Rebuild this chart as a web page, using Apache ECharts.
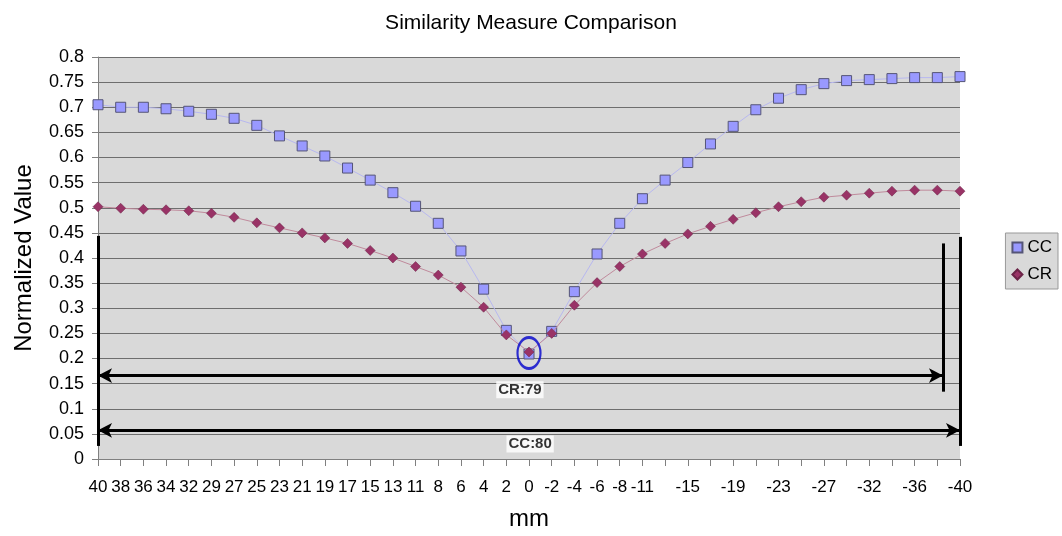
<!DOCTYPE html>
<html>
<head>
<meta charset="utf-8">
<script src="https://cdn.jsdelivr.net/npm/echarts@6/dist/echarts.min.js"></script>
<style>
  html, body { margin: 0; padding: 0; background: #fff; }
  #chart { width: 1062px; height: 536px; }
</style>
</head>
<body>
<div id="chart"></div>
<script>
// x positions in mm (some labels hidden in the original because of overlap)
const mmLabels = ['40', '38', '36', '34', '32', '29', '27', '25', '23', '21', '19', '17', '15', '13', '11', '8', '6', '4', '2', '0',
  '-2', '-4', '-6', '-8', '-11', '-13', '-15', '-17', '-19', '-21', '-23', '-25', '-27', '-29', '-32', '-34', '-36', '-38', '-40']

const ccValues = [0.705, 0.700, 0.700, 0.697, 0.692, 0.686, 0.678, 0.664, 0.643, 0.623, 0.603, 0.579, 0.555, 0.530, 0.503, 0.469, 0.414, 0.338, 0.256, 0.209,
  0.254, 0.333, 0.408, 0.469, 0.518, 0.555, 0.590, 0.627, 0.662, 0.695, 0.718, 0.735, 0.747, 0.753, 0.755, 0.757, 0.759, 0.759, 0.761]

const crValues = [0.502, 0.499, 0.497, 0.496, 0.494, 0.489, 0.481, 0.470, 0.460, 0.450, 0.440, 0.429, 0.415, 0.400, 0.383, 0.366, 0.342, 0.302, 0.247, 0.213,
  0.250, 0.306, 0.351, 0.383, 0.408, 0.429, 0.448, 0.463, 0.477, 0.490, 0.502, 0.512, 0.521, 0.525, 0.529, 0.533, 0.535, 0.535, 0.533]

// annotation bits (index along the x axis, value)
const crRange = [[0, 0.166], [37.25, 0.166]]
const ccRange = [[0, 0.057], [38, 0.057]]
const fences = [
  [[0, 0.444], [0, 0.026]],
  [[37.25, 0.429], [37.25, 0.134]],
  [[38, 0.442], [38, 0.026]]
]
const rangeLabels = [
  { text: 'CR:79', at: [18.6, 0.138] },
  { text: 'CC:80', at: [19.05, 0.030] }
]
const minimumAt = [19, 0.211]

const font = 'Liberation Sans, Arial, sans-serif'
const chart = echarts.init(document.getElementById('chart'))

const arrowLines = [crRange, ccRange].map(r => [
  { coord: r[0], symbol: 'arrow' },
  { coord: r[1], symbol: 'arrow' }
])
const fenceLines = fences.map(f => [
  { coord: f[0], symbol: 'none' },
  { coord: f[1], symbol: 'none' }
])

const option = {
  animation: false,
  backgroundColor: '#fff',
  title: {
    text: 'Similarity Measure Comparison',
    left: 'center',
    top: 8,
    textStyle: { fontFamily: font, fontSize: 21, fontWeight: 'normal', color: '#000' }
  },
  legend: {
    orient: 'vertical',
    right: 4,
    top: 233,
    itemWidth: 10,
    itemHeight: 10,
    itemGap: 10,
    padding: [6, 6, 6, 6],
    backgroundColor: '#d9d9d9',
    borderColor: '#999',
    borderWidth: 1,
    borderRadius: 0,
    textStyle: { fontFamily: font, fontSize: 17, color: '#000' },
    data: [
      { name: 'CC', icon: 'rect' },
      { name: 'CR', icon: 'diamond' }
    ]
  },
  grid: {
    left: 98,
    right: 102,
    top: 57,
    bottom: 74,
    show: true,
    backgroundColor: '#d9d9d9',
    borderWidth: 0
  },
  xAxis: [
    {
      type: 'category',
      data: mmLabels,
      boundaryGap: false,
      name: 'mm',
      nameLocation: 'middle',
      nameGap: 48,
      nameTextStyle: { fontFamily: font, fontSize: 24, color: '#000' },
      axisLine: { lineStyle: { color: '#808080', width: 1 } },
      axisTick: { show: true, length: 7, interval: 0, lineStyle: { color: '#808080' } },
      axisLabel: {
        interval: (i) => i <= 24 || i % 2 === 0,
        margin: 20,
        fontFamily: font,
        fontSize: 17,
        color: '#000'
      },
      splitLine: { show: false }
    },
    {
      type: 'value',
      min: 0,
      max: 38,
      show: false
    }
  ],
  yAxis: {
    type: 'value',
    min: 0,
    max: 0.8,
    interval: 0.05,
    name: 'Normalized Value',
    nameLocation: 'middle',
    nameGap: 62,
    nameTextStyle: { fontFamily: font, fontSize: 24, color: '#000' },
    axisLine: { show: true, lineStyle: { color: '#808080', width: 1 } },
    axisTick: { show: true, length: 6, lineStyle: { color: '#808080' } },
    axisLabel: {
      margin: 14,
      fontFamily: font,
      fontSize: 18,
      color: '#000',
      formatter: (v) => String(+v.toFixed(2))
    },
    splitLine: { show: true, lineStyle: { color: '#6e6e6e', width: 1 } }
  },
  series: [
    {
      name: 'CC',
      type: 'line',
      data: ccValues,
      symbol: 'rect',
      symbolSize: 10,
      lineStyle: { color: '#b8b8f0', width: 1 },
      itemStyle: { color: '#9999ff', borderColor: '#555577', borderWidth: 1 },
      z: 3
    },
    {
      name: 'CR',
      type: 'line',
      data: crValues,
      symbol: 'diamond',
      symbolSize: 10,
      lineStyle: { color: '#c08a9c', width: 1 },
      itemStyle: { color: '#993366', borderColor: '#6b2347', borderWidth: 0.5 },
      z: 4
    },
    {
      name: 'notes',
      type: 'scatter',
      xAxisIndex: 1,
      silent: true,
      z: 5,
      symbol: 'circle',
      symbolSize: [23, 31],
      itemStyle: { color: 'rgba(0,0,0,0)', borderColor: '#0000cc', borderWidth: 2.5 },
      data: [minimumAt],
      markLine: {
        silent: true,
        symbolSize: [11, 14],
        label: { show: false },
        lineStyle: { color: '#000', width: 3, type: 'solid' },
        emphasis: { disabled: true },
        data: arrowLines.concat(fenceLines)
      }
    },
    {
      name: 'labels',
      type: 'scatter',
      xAxisIndex: 1,
      silent: true,
      z: 6,
      symbolSize: 0,
      data: rangeLabels.map(l => ({ value: l.at, name: l.text })),
      label: {
        show: true,
        position: 'inside',
        formatter: (p) => p.name,
        fontFamily: font,
        fontSize: 15,
        fontWeight: 'bold',
        color: '#000',
        backgroundColor: '#fff',
        padding: [1, 2]
      }
    }
  ]
}

chart.setOption(option)
</script>
</body>
</html>
